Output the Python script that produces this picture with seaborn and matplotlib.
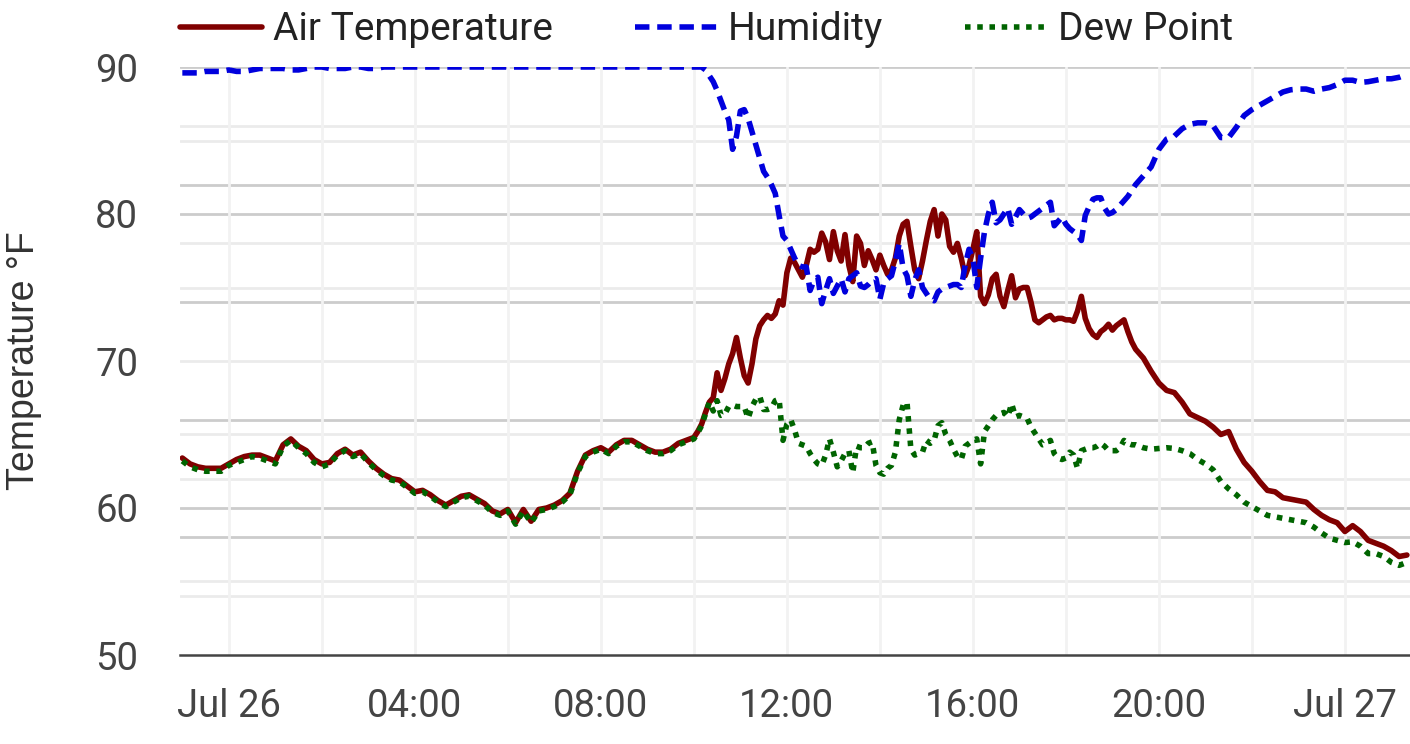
import matplotlib
matplotlib.use('Agg')
import pandas as pd
import seaborn as sns
import matplotlib.pyplot as plt
import matplotlib.dates as mdates

# time axis: 10 min steps overnight, 5 min during the day, 10 min again in the evening
times_night = pd.date_range('2024-07-25 23:00', '2024-07-26 09:50', freq='10min')
times_day = pd.date_range('2024-07-26 10:00', '2024-07-26 19:25', freq='5min')
times_evening = pd.date_range('2024-07-26 19:30', '2024-07-27 01:20', freq='10min')

air_temp = [
    # 23:00 - 09:50 (10 min)
    63.4, 63.0, 62.8, 62.7, 62.7, 62.7,
    63.0, 63.3, 63.5, 63.6, 63.6, 63.4,
    63.2, 64.3, 64.7, 64.2, 63.9, 63.3,
    63.0, 63.1, 63.7, 64.0, 63.6, 63.8,
    63.2, 62.7, 62.3, 62.0, 61.9, 61.5,
    61.1, 61.2, 60.9, 60.5, 60.2, 60.5,
    60.8, 60.9, 60.6, 60.3, 59.8, 59.6,
    59.9, 59.0, 59.9, 59.1, 59.9, 60.0,
    60.2, 60.5, 61.0, 62.5, 63.6, 63.9,
    64.1, 63.8, 64.3, 64.6, 64.6, 64.3,
    64.0, 63.8, 63.8, 64.0, 64.4, 64.6,
    # 10:00 - 19:25 (5 min)
    64.8, 65.2, 65.7, 66.5, 67.2, 67.5, 69.2, 68.0, 68.8, 69.8, 70.5, 71.6,
    70.2, 69.0, 68.5, 69.8, 71.5, 72.4, 72.8, 73.1, 72.9, 73.2, 74.1, 73.8,
    76.0, 77.0, 76.7, 76.2, 75.7, 76.5, 77.6, 77.4, 77.6, 78.7, 78.1, 76.9,
    78.8, 77.5, 76.8, 78.6, 76.5, 75.4, 78.5, 78.0, 76.5, 77.5, 76.9, 76.2,
    77.2, 76.5, 75.9, 76.2, 77.0, 78.5, 79.3, 79.5, 77.8, 76.2, 75.6, 76.8,
    78.2, 79.5, 80.3, 78.5, 80.0, 79.6, 77.8, 77.4, 78.0, 77.0, 75.8, 76.5,
    77.6, 78.8, 74.4, 73.9, 74.5, 75.6, 75.9, 74.4, 73.7, 74.8, 75.8, 74.3,
    74.9, 75.0, 75.0, 74.0, 72.8, 72.6, 72.8, 73.0, 73.1, 72.8, 72.9, 72.9,
    72.8, 72.8, 72.7, 73.4, 74.4, 72.9, 72.2, 71.8, 71.6, 72.0, 72.2, 72.5,
    72.1, 72.4, 72.6, 72.8, 72.0, 71.3,
    # 19:30 - 01:20 (10 min)
    70.8, 70.2, 69.3,
    68.5, 68.0, 67.85, 67.2, 66.4, 66.15,
    65.9, 65.5, 65.0, 65.2, 64.0, 63.1,
    62.5, 61.8, 61.2, 61.1, 60.7, 60.6,
    60.5, 60.4, 59.9, 59.5, 59.2, 59.0,
    58.4, 58.8, 58.4, 57.8, 57.6, 57.4,
    57.1, 56.7, 56.8,
]

humidity = [
    89.6, 89.6, 89.6, 89.7, 89.7, 89.7,
    89.8, 89.7, 89.7, 89.8, 89.9, 89.9,
    89.9, 89.9, 89.8, 89.8, 89.9, 90.0,
    90.0, 89.9, 89.9, 89.9, 90.0, 90.0,
    89.9, 89.9, 90.0, 90.0, 90.0, 90.0,
    90.0, 90.0, 90.0, 90.0, 90.0, 90.0,
    90.0, 90.0, 90.0, 90.0, 90.0, 90.0,
    90.0, 90.0, 90.0, 90.0, 90.0, 90.0,
    90.0, 90.0, 90.0, 90.0, 90.0, 90.0,
    90.0, 90.0, 90.0, 90.0, 90.0, 90.0,
    90.0, 90.0, 90.0, 90.0, 90.0, 90.0,
    90.0, 90.0, 90.0, 89.8, 89.4, 89.0, 88.4, 87.7, 87.0, 86.4, 84.4, 85.3,
    87.0, 87.1, 86.5, 85.6, 84.7, 83.8, 82.9, 82.5, 82.0, 81.4, 79.9, 78.5,
    78.2, 77.6, 77.0, 76.5, 76.4, 76.4, 74.8, 75.5, 75.7, 73.9, 74.8, 75.6,
    74.6, 75.1, 75.6, 74.7, 75.6, 75.8, 76.0, 75.1, 75.0, 75.2, 75.5, 75.6,
    74.2, 75.3, 75.6, 75.8, 76.8, 78.0, 76.3, 75.8, 74.4, 75.5, 76.2, 75.0,
    74.6, 74.2, 74.1, 74.7, 74.9, 75.0, 75.1, 75.2, 75.2, 75.0, 76.5, 77.6,
    77.0, 75.0, 77.0, 78.8, 80.0, 80.8, 79.4, 79.6, 80.0, 80.4, 79.3, 79.8,
    80.3, 80.0, 79.7, 79.8, 80.0, 80.2, 80.4, 80.6, 80.8, 79.2, 79.5, 79.8,
    79.3, 79.0, 78.8, 78.6, 78.2, 79.9, 80.5, 81.0, 81.1, 81.1, 80.4, 80.0,
    80.1, 80.3, 80.6, 80.9, 81.2, 81.6,
    82.0, 82.6, 83.2,
    84.4, 85.1, 85.3, 85.8, 86.1, 86.2,
    86.2, 86.0, 85.2, 85.2, 85.9, 86.7,
    87.1, 87.4, 87.7, 88.0, 88.3, 88.45,
    88.5, 88.5, 88.35, 88.5, 88.6, 88.8,
    89.1, 89.1, 88.95, 89.0, 89.1, 89.2,
    89.2, 89.3, 89.5,
]

dew_point = [
    63.2, 62.8, 62.6, 62.5, 62.5, 62.5,
    62.9, 63.1, 63.3, 63.5, 63.4, 63.2,
    63.0, 64.2, 64.6, 64.1, 63.7, 63.1,
    62.8, 63.0, 63.6, 63.9, 63.5, 63.7,
    63.1, 62.6, 62.2, 61.9, 61.8, 61.4,
    61.0, 61.1, 60.8, 60.4, 60.1, 60.4,
    60.7, 60.8, 60.5, 60.2, 59.7, 59.5,
    59.8, 58.9, 59.8, 59.0, 59.8, 59.9,
    60.1, 60.4, 60.9, 62.4, 63.5, 63.8,
    64.0, 63.7, 64.2, 64.5, 64.5, 64.2,
    63.9, 63.7, 63.7, 63.9, 64.3, 64.5,
    64.7, 65.1, 65.6, 66.4, 67.2, 66.6, 67.3, 66.3, 66.4, 66.9, 67.0, 66.9,
    66.9, 66.9, 66.1, 66.9, 67.4, 67.6, 66.7, 66.7, 66.8, 67.3, 67.4, 64.6,
    65.7, 66.0, 65.3, 64.4, 64.3, 64.2, 63.7, 63.3, 63.0, 62.9, 63.6, 64.7,
    63.8, 62.8, 63.2, 63.7, 63.9, 62.4, 64.2, 64.1, 64.1, 64.4, 64.5, 62.9,
    62.4, 62.3, 62.7, 62.9, 63.8, 66.0, 67.0, 67.2, 64.0, 63.6, 63.7, 63.8,
    64.6, 64.4, 64.6, 65.6, 65.8, 65.0, 64.6, 64.0, 63.5, 63.3, 64.2, 64.4,
    64.6, 64.7, 63.0, 65.2, 65.6, 66.0, 66.3, 66.4, 66.5, 66.2, 67.1, 66.2,
    66.3, 66.2, 66.1, 65.5, 65.1, 64.7, 64.3, 64.4, 64.6, 63.7, 63.4, 63.3,
    63.4, 63.8, 63.6, 62.7, 63.9, 64.0, 64.1, 64.1, 64.2, 64.4, 64.2, 63.9,
    63.9, 63.9, 64.1, 64.6, 64.4, 64.3,
    64.3, 64.1, 64.0,
    64.05, 64.1, 64.05, 63.9, 63.7, 63.3,
    63.0, 62.6, 61.8, 61.3, 60.9, 60.4,
    60.1, 59.8, 59.5, 59.4, 59.3, 59.2,
    59.1, 59.0, 58.7, 58.3, 57.95, 57.8,
    57.65, 57.7, 57.4, 56.9, 56.9, 56.7,
    56.3, 56.1, 56.3,
]

y_ticks = [50, 60, 70, 80, 90]

times = times_night.append(times_day).append(times_evening)
df = pd.DataFrame({'time': times, 'Air Temperature': air_temp,
                   'Humidity': humidity, 'Dew Point': dew_point})

sns.set_theme(style='white')
plt.rcParams['font.family'] = ['Roboto', 'DejaVu Sans']

fig = plt.figure(figsize=(14.1, 7.44), dpi=100)
ax = fig.add_axes([180 / 1410, 89 / 744, 1230 / 1410, 588 / 744])

lw = 4.0
sns.lineplot(data=df, x='time', y='Air Temperature', ax=ax, color='#800000',
             linewidth=lw, label='Air Temperature')
sns.lineplot(data=df, x='time', y='Humidity', ax=ax, color='#0000dd',
             linewidth=lw, linestyle=(0, (2.6, 1.4)), label='Humidity')
sns.lineplot(data=df, x='time', y='Dew Point', ax=ax, color='#006400',
             linewidth=lw, linestyle=(0, (1.0, 1.2)), label='Dew Point')

# horizontal grid (two tones, as in the source)
for v in [90, 82, 80, 74, 66, 60, 58]:
    ax.axhline(v, color='#cccccc', lw=2.0, zorder=0)
for v in [86, 85, 78, 75, 70, 65, 62, 55, 54]:
    ax.axhline(v, color='#ebebeb', lw=2.0, zorder=0)

ax.set_ylim(50, 90)
ax.set_yticks(y_ticks)
ax.set_xlim(pd.Timestamp('2024-07-25 22:57'), pd.Timestamp('2024-07-27 01:24'))

ax.xaxis.set_major_locator(mdates.HourLocator(byhour=range(0, 24, 4)))
ax.xaxis.set_minor_locator(mdates.HourLocator(byhour=range(0, 24, 2)))


def fmt(x, pos=None):
    d = mdates.num2date(x)
    if d.hour == 0:
        return d.strftime('%b ') + str(d.day)
    return d.strftime('%H:%M')


ax.xaxis.set_major_formatter(plt.FuncFormatter(fmt))
ax.grid(False)
ax.xaxis.grid(True, which='both', color='#f2f2f2', lw=2.0, zorder=0)
ax.set_axisbelow(True)

for s in ['top', 'right', 'left']:
    ax.spines[s].set_visible(False)
ax.spines['bottom'].set_color('#444444')
ax.spines['bottom'].set_linewidth(1.8)
ax.spines['bottom'].set_zorder(5)

ax.tick_params(axis='x', length=0, pad=24, labelsize=27.5, labelcolor='#444444')
ax.tick_params(axis='y', length=0, pad=30, labelsize=27.5, labelcolor='#444444')

ax.set_xlabel('')
ax.set_ylabel('Temperature °F', fontsize=27, color='#333333',
              family=['Liberation Sans', 'DejaVu Sans'])
ax.yaxis.set_label_coords(-0.112, 0.5)

ax.legend(loc='center left', bbox_to_anchor=(0.0, 1.063), ncol=3, frameon=False,
          borderpad=0, borderaxespad=0, handlelength=2.1, handletextpad=0.3,
          columnspacing=2.1, fontsize=28, labelcolor='#222222')

fig.savefig('out.png', dpi=100)
